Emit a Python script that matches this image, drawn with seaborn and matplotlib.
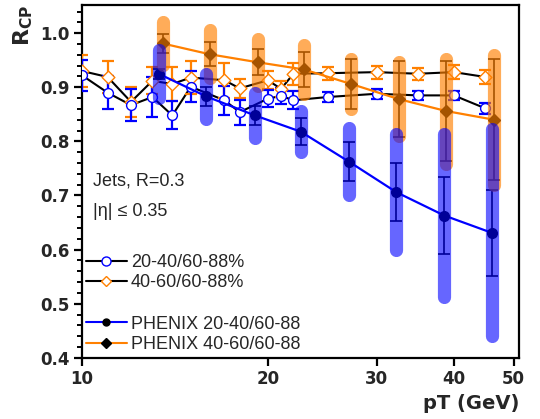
import numpy as np
import pandas as pd
import matplotlib
matplotlib.use("Agg")
import matplotlib.pyplot as plt
from matplotlib.lines import Line2D
from matplotlib.ticker import FixedLocator, MultipleLocator, NullLocator, FormatStrFormatter
import seaborn as sns

# ---------------- data ----------------
pt_open = [10, 11, 12, 13, 14, 15, 17, 18, 20, 21, 22, 25, 30, 35, 40, 45]
r_2040 = [0.922, 0.890, 0.867, 0.882, 0.848, 0.901, 0.876, 0.854, 0.879, 0.884, 0.876, 0.882, 0.888, 0.885, 0.885, 0.861]
e_2040 = [0.028, 0.030, 0.030, 0.037, 0.026, 0.029, 0.027, 0.023, 0.016, 0.015, 0.017, 0.010, 0.009, 0.009, 0.009, 0.010]
r_4060 = [0.930, 0.919, 0.873, 0.912, 0.906, 0.918, 0.913, 0.898, 0.913, 0.897, 0.925, 0.926, 0.928, 0.925, 0.928, 0.919]
e_4060 = [0.030, 0.030, 0.028, 0.025, 0.032, 0.031, 0.032, 0.018, 0.017, 0.015, 0.020, 0.012, 0.012, 0.011, 0.013, 0.013]

pt_ph_2040 = [13.3, 15.9, 19.05, 22.6, 27.1, 32.3, 38.6, 46.1]
r_ph_2040 = [0.925, 0.883, 0.848, 0.818, 0.762, 0.706, 0.663, 0.631]
stat_ph_2040 = [0.009, 0.017, 0.018, 0.025, 0.036, 0.054, 0.072, 0.079]
sys_ph_2040 = [0.044, 0.042, 0.042, 0.038, 0.062, 0.107, 0.151, 0.191]

pt_ph_4060 = [13.5, 16.1, 19.3, 22.85, 27.3, 32.6, 38.9, 46.5]
r_ph_4060 = [0.981, 0.961, 0.946, 0.933, 0.906, 0.878, 0.856, 0.840]
stat_ph_4060 = [0.017, 0.022, 0.024, 0.032, 0.046, 0.070, 0.092, 0.112]
sys_ph_4060 = [0.040, 0.044, 0.043, 0.045, 0.047, 0.068, 0.097, 0.120]

x_ticks = [10, 20, 30, 40, 50]
x_ticklabels = ["10", "20", "30", "40", "50"]

# ---------------- style ----------------
sns.set_theme(style="ticks")
plt.rcParams["font.family"] = ["Liberation Sans", "DejaVu Sans"]
plt.rcParams["mathtext.fontset"] = "dejavusans"

BLUE = "#0000ff"
ORANGE = "#ff8000"

fig = plt.figure(figsize=(5.4, 4.19), dpi=100)
ax = fig.add_axes([0.152, 0.146, 0.809, 0.842])
ax.set_xscale("log")

df_open = pd.DataFrame({"pt": pt_open, "r2040": r_2040, "r4060": r_4060})
df_ph1 = pd.DataFrame({"pt": pt_ph_2040, "r": r_ph_2040})
df_ph2 = pd.DataFrame({"pt": pt_ph_4060, "r": r_ph_4060})

# open series: black connecting lines
sns.lineplot(data=df_open, x="pt", y="r2040", ax=ax, color="black", lw=1.5,
             estimator=None, sort=True, zorder=3)
sns.lineplot(data=df_open, x="pt", y="r4060", ax=ax, color="black", lw=1.5,
             estimator=None, sort=True, zorder=3)
# error bars
ax.errorbar(pt_open, r_4060, yerr=e_4060, fmt="none", ecolor=ORANGE, elinewidth=1.6,
            capsize=4.5, capthick=1.6, zorder=4)
ax.errorbar(pt_open, r_2040, yerr=e_2040, fmt="none", ecolor=BLUE, elinewidth=1.6,
            capsize=4.5, capthick=1.6, zorder=4)
# markers
sns.scatterplot(data=df_open, x="pt", y="r4060", ax=ax, marker="D", s=42,
                facecolor="white", edgecolor=ORANGE, linewidth=1.0, zorder=5)
sns.scatterplot(data=df_open, x="pt", y="r2040", ax=ax, marker="o", s=50,
                facecolor="white", edgecolor=BLUE, linewidth=1.0, zorder=5)

# PHENIX: lines
sns.lineplot(data=df_ph1, x="pt", y="r", ax=ax, color=BLUE, lw=1.6,
             estimator=None, sort=True, zorder=6)
sns.lineplot(data=df_ph2, x="pt", y="r", ax=ax, color=ORANGE, lw=1.6,
             estimator=None, sort=True, zorder=6)
# PHENIX stat error bars and markers (black, under the translucent sys bands)
ax.errorbar(pt_ph_2040, r_ph_2040, yerr=stat_ph_2040, fmt="o", color="black", ms=7,
            elinewidth=1.2, capsize=4, capthick=1.2, zorder=7)
ax.errorbar(pt_ph_4060, r_ph_4060, yerr=stat_ph_4060, fmt="D", color="black", ms=6,
            elinewidth=1.2, capsize=4, capthick=1.2, zorder=7)
# sys bands
lo1 = np.array(r_ph_2040) - np.array(sys_ph_2040)
hi1 = np.array(r_ph_2040) + np.array(sys_ph_2040)
lo2 = np.array(r_ph_4060) - np.array(sys_ph_4060)
hi2 = np.array(r_ph_4060) + np.array(sys_ph_4060)
vc2 = ax.vlines(pt_ph_4060, lo2, hi2, colors=ORANGE, linewidth=9.5, alpha=0.65, zorder=8)
vc2.set_capstyle("round")
vc1 = ax.vlines(pt_ph_2040, lo1, hi1, colors=BLUE, linewidth=9.5, alpha=0.6, zorder=8)
vc1.set_capstyle("round")

# ---------------- axes ----------------
ax.set_xlim(10, 51)
ax.set_ylim(0.4, 1.052)
ax.xaxis.set_major_locator(FixedLocator(x_ticks))
ax.xaxis.set_minor_locator(NullLocator())
ax.set_xticklabels(x_ticklabels)
ax.yaxis.set_major_locator(MultipleLocator(0.1))
ax.yaxis.set_minor_locator(MultipleLocator(0.02))
ax.yaxis.set_major_formatter(FormatStrFormatter("%.1f"))

for s in ax.spines.values():
    s.set_linewidth(1.6)
    s.set_color("black")
ax.tick_params(axis="both", which="major", direction="out", length=6, width=1.6,
               labelsize=12, pad=3, color="black")
ax.tick_params(axis="y", which="minor", direction="out", length=3.5, width=1.4, color="black")
for lab in ax.get_xticklabels() + ax.get_yticklabels():
    lab.set_fontweight("bold")
    lab.set_family("DejaVu Sans")

ax.set_xlabel("pT (GeV)", fontsize=14, fontweight="bold", family="DejaVu Sans", loc="right")
ax.set_ylabel(r"$\mathbf{R_{CP}}$", fontsize=16, loc="top", labelpad=4)

ax.text(0.024, 0.50, "Jets, R=0.3", transform=ax.transAxes, fontsize=13,
        ha="left", va="center")
ax.text(0.024, 0.415, "|η| ≤ 0.35", transform=ax.transAxes, fontsize=13,
        ha="left", va="center")

handles = [
    Line2D([], [], color="black", lw=1.5, marker="o", ms=6.5, mfc="white", mec=BLUE, mew=1.0),
    Line2D([], [], color="black", lw=1.5, marker="D", ms=5.5, mfc="white", mec=ORANGE, mew=1.0),
    Line2D([], [], color="none"),
    Line2D([], [], color=BLUE, lw=1.5, marker="o", ms=5, mfc="black", mec="black"),
    Line2D([], [], color=ORANGE, lw=1.5, marker="D", ms=5, mfc="black", mec="black"),
]
labels = ["20-40/60-88%", "40-60/60-88%", "", "PHENIX 20-40/60-88", "PHENIX 40-60/60-88"]
leg = ax.legend(handles, labels, loc="upper left", bbox_to_anchor=(0.0, 0.305),
                frameon=False, fontsize=13, handlelength=2.3, handletextpad=0.2,
                labelspacing=0.2, borderaxespad=0.0, borderpad=0.2)

if ax.get_legend() is None:
    pass

fig.savefig("out.png", dpi=100)
